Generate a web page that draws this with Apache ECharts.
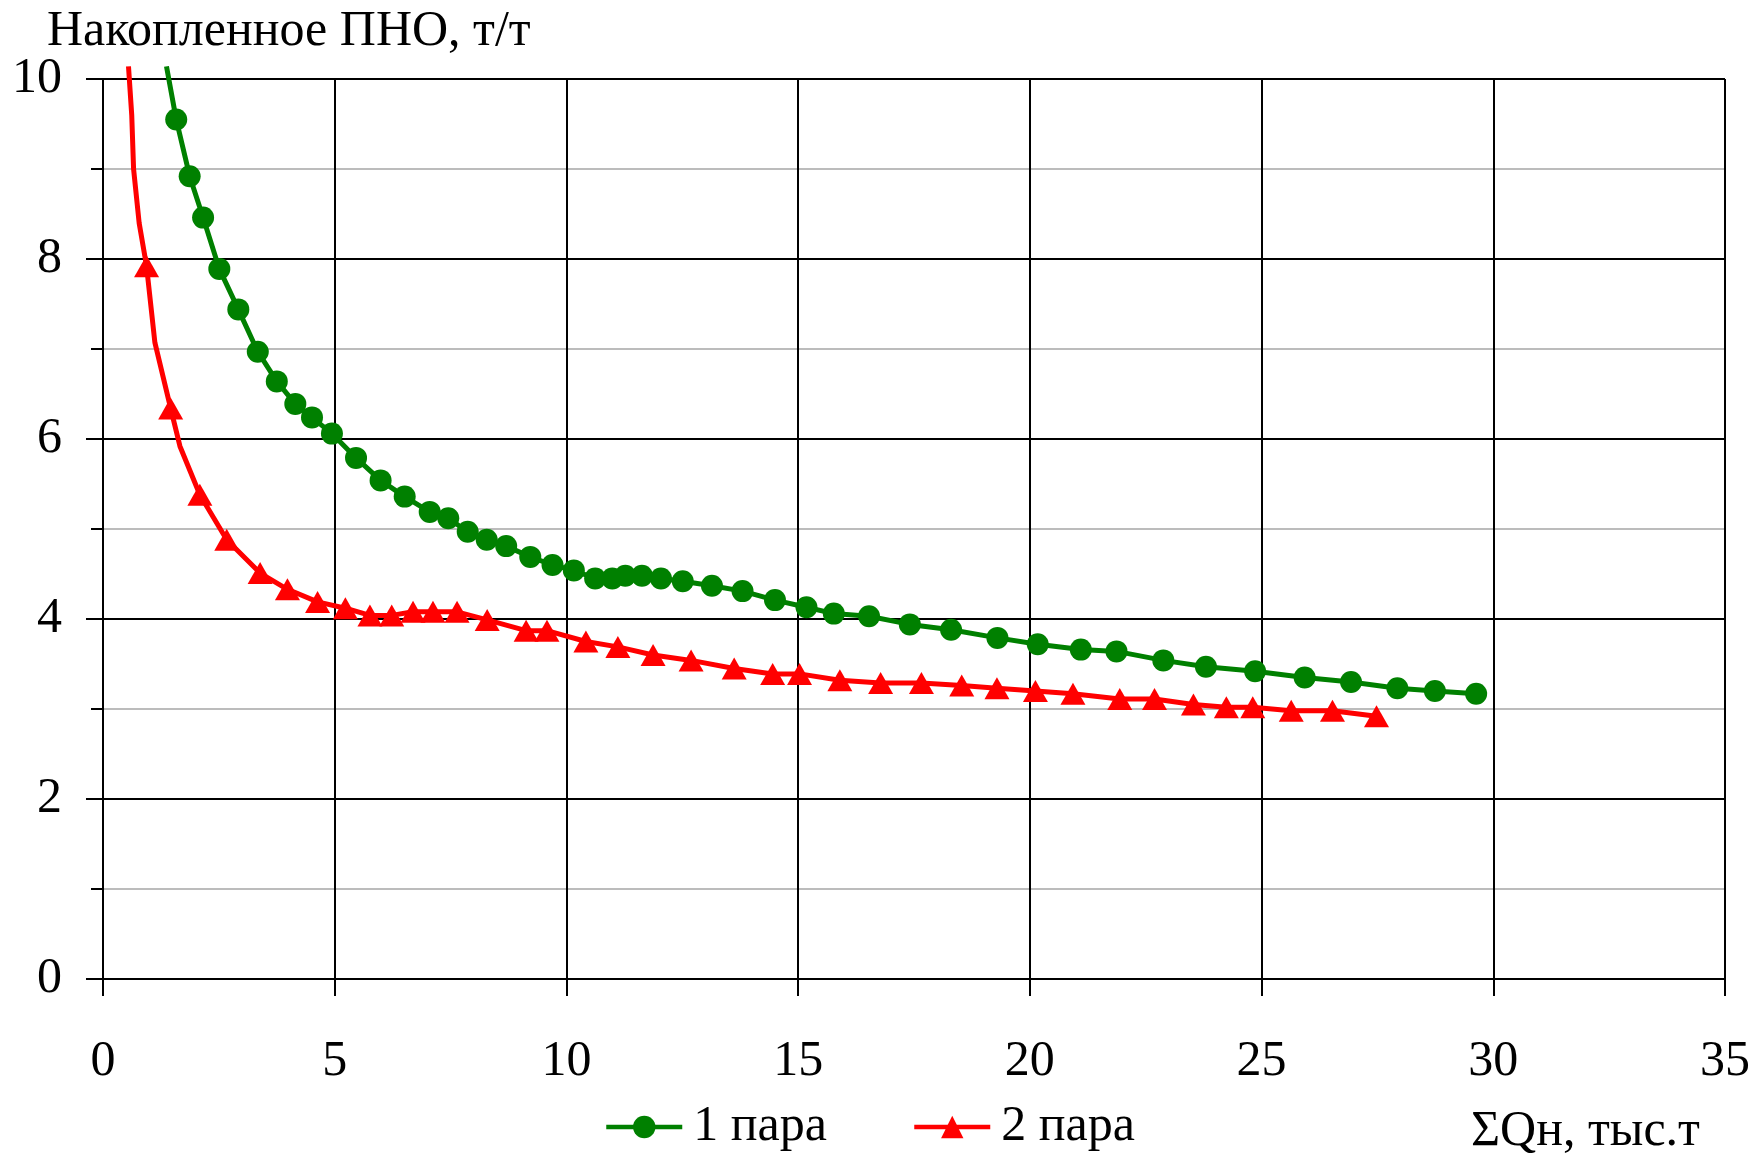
<!DOCTYPE html>
<html>
<head>
<meta charset="utf-8">
<script src="https://cdn.jsdelivr.net/npm/echarts@6/dist/echarts.min.js"></script>
<style>
html,body{margin:0;padding:0;background:#fff;}
#chart{width:1753px;height:1156px;}
</style>
</head>
<body>
<div id="chart"></div>
<script>
// ---- data ----
var seriesNames = ['1 пара', '2 пара'];
var yTitle = 'Накопленное ПНО, т/т';
var xTitle = 'ΣQн, тыс.т';

// 1 пара : [ΣQн, ПНО]
var pair1 = [
  [1.37,10.14],[1.58,9.55],[1.87,8.92],[2.16,8.46],[2.51,7.89],[2.92,7.44],
  [3.34,6.97],[3.75,6.64],[4.15,6.39],[4.51,6.24],[4.94,6.06],[5.46,5.79],
  [5.99,5.54],[6.51,5.36],[7.05,5.19],[7.45,5.12],[7.87,4.97],[8.28,4.88],
  [8.70,4.81],[9.22,4.69],[9.70,4.60],[10.16,4.54],[10.62,4.45],[10.99,4.45],
  [11.27,4.48],[11.63,4.48],[12.04,4.45],[12.51,4.42],[13.14,4.37],[13.80,4.31],
  [14.50,4.21],[15.18,4.13],[15.77,4.06],[16.53,4.03],[17.41,3.94],[18.30,3.88],
  [19.30,3.79],[20.17,3.72],[21.10,3.66],[21.87,3.64],[22.88,3.54],[23.80,3.47],
  [24.86,3.42],[25.93,3.35],[26.93,3.30],[27.93,3.23],[28.74,3.20],[29.63,3.17]
];
// indices of line vertices drawn without a marker
var pair1Unmarked = [0];

// 2 пара : [ΣQн, ПНО]
var pair2 = [
  [0.55,10.14],[0.62,9.60],[0.66,9.00],[0.78,8.40],[0.94,7.92],[1.12,7.07],
  [1.46,6.34],[1.66,5.92],[2.09,5.38],[2.67,4.88],[3.39,4.51],[3.98,4.33],
  [4.63,4.19],[5.23,4.12],[5.76,4.04],[6.23,4.04],[6.69,4.08],[7.12,4.08],
  [7.64,4.08],[8.29,3.99],[9.13,3.87],[9.58,3.87],[10.42,3.75],[11.11,3.69],
  [11.87,3.60],[12.69,3.54],[13.62,3.45],[14.45,3.39],[15.03,3.39],[15.90,3.32],
  [16.78,3.29],[17.66,3.29],[18.53,3.26],[19.29,3.23],[20.12,3.20],[20.93,3.17],
  [21.94,3.11],[22.69,3.11],[23.53,3.05],[24.24,3.02],[24.81,3.02],[25.64,2.98],
  [26.53,2.98],[27.48,2.92]
];
var pair2Unmarked = [0,1,2,3,5,7];

var xMin = 0, xMax = 35, xStep = 5;
var yMin = 0, yMax = 10, yStep = 2;

// ---- build ----
function toItems(arr, unmarked){
  return arr.map(function(p,i){
    var it = {value:[p[0],p[1]]};
    if (unmarked.indexOf(i) >= 0) it.symbol = 'none';
    return it;
  });
}
var FONT = '"Liberation Serif", "DejaVu Serif", serif';
function legendAt(left, name, pad){
  return {
    show:true, left:left, top:1097, itemWidth:76, itemHeight:28, itemGap:0,
    lineStyle:{width:4.5},
    textStyle:{fontFamily:FONT, fontSize:50, color:'#000', padding:[0,0,0,pad]},
    data:[{name:name}]
  };
}
var chart = echarts.init(document.getElementById('chart'), null, {renderer:'canvas'});
chart.setOption({
  backgroundColor:'#ffffff',
  animation:false,
  grid:{left:103, right:28, top:79, bottom:177},
  xAxis:{
    type:'value', min:xMin, max:xMax, interval:xStep,
    axisLine:{show:true, lineStyle:{color:'#000', width:2}},
    axisTick:{show:true, inside:false, length:17, lineStyle:{color:'#000', width:2}},
    axisLabel:{fontFamily:FONT, fontSize:50, color:'#000', margin:58},
    splitLine:{show:true, lineStyle:{color:'#000', width:2}}
  },
  yAxis:{
    type:'value', min:yMin, max:yMax, interval:yStep,
    axisLine:{show:true, onZero:false, lineStyle:{color:'#000', width:2}},
    axisTick:{show:true, inside:false, length:17, lineStyle:{color:'#000', width:2}},
    minorTick:{show:true, splitNumber:2, length:12, lineStyle:{color:'#000', width:2}},
    axisLabel:{fontFamily:FONT, fontSize:50, color:'#000', margin:41},
    splitLine:{show:true, lineStyle:{color:'#000', width:2}},
    minorSplitLine:{show:true, lineStyle:{color:'#a6a6a6', width:1.5}}
  },
  legend:[legendAt(599, seriesNames[0], 6), legendAt(907, seriesNames[1], 6)],
  graphic:[
    {type:'text', left:47, top:7, style:{text:yTitle, font:'50px ' + FONT, fill:'#000'}},
    {type:'text', left:1471, top:1107, style:{text:xTitle, font:'50px ' + FONT, fill:'#000'}}
  ],
  series:[
    {
      name:seriesNames[0], type:'line', data:toItems(pair1, pair1Unmarked),
      clip:false, smooth:false,
      symbol:'circle', symbolSize:22, showAllSymbol:true,
      lineStyle:{color:'#008000', width:5},
      itemStyle:{color:'#008000'}, z:3
    },
    {
      name:seriesNames[1], type:'line', data:toItems(pair2, pair2Unmarked),
      clip:false, smooth:false,
      symbol:'triangle', symbolSize:[25,22], showAllSymbol:true,
      lineStyle:{color:'#ff0000', width:5},
      itemStyle:{color:'#ff0000'}, z:4
    }
  ]
});
</script>
</body>
</html>
